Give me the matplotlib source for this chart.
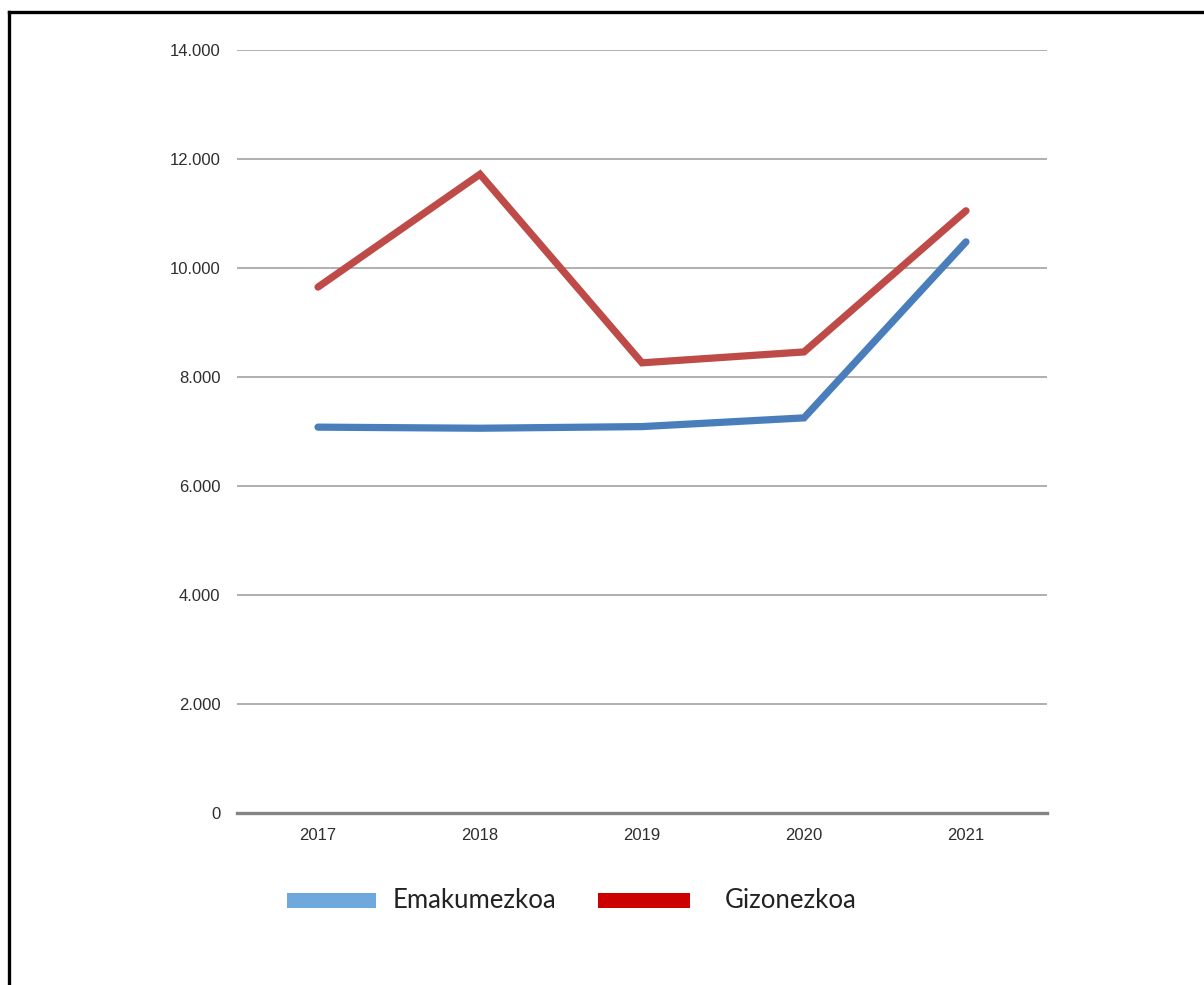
import matplotlib
matplotlib.use("Agg")
import matplotlib.pyplot as plt
from matplotlib.lines import Line2D
from matplotlib.patches import Rectangle
from matplotlib.ticker import FuncFormatter

years = ["2017", "2018", "2019", "2020", "2021"]
emakumezkoa = [7080, 7060, 7090, 7250, 10480]
gizonezkoa = [9650, 11720, 8260, 8460, 11050]
yticks = [0, 2000, 4000, 6000, 8000, 10000, 12000, 14000]
legend_labels = ["Emakumezkoa", "Gizonezkoa"]

W, H = 1204, 985
fig = plt.figure(figsize=(W / 100, H / 100), dpi=100)
ax = fig.add_axes([237 / W, 1 - 813 / H, (1047 - 237) / W, (813 - 50) / H])

x = list(range(len(years)))
ax.plot(x, emakumezkoa, color="#4a7ebb", lw=5.2, solid_capstyle="round", solid_joinstyle="miter", zorder=3)
ax.plot(x, gizonezkoa, color="#be4b48", lw=5.2, solid_capstyle="round", solid_joinstyle="miter", zorder=3)

ax.set_xlim(-0.5, len(years) - 0.5)
ax.set_ylim(0, 14000)
ax.set_xticks(x)
ax.set_xticklabels(years)
ax.set_yticks(yticks)
ax.yaxis.set_major_formatter(FuncFormatter(lambda v, p: f"{int(v):,}".replace(",", ".")))
for t in yticks[1:]:
    ax.axhline(t, color="#9a9a9a", lw=1.1, zorder=1)
ax.axhline(0, color="#858585", lw=2.4, zorder=2, clip_on=False)
for s in ax.spines.values():
    s.set_visible(False)
ax.tick_params(length=0, labelsize=12, labelcolor="#2e2e2e")
ax.tick_params(axis="y", pad=12)
ax.tick_params(axis="x", pad=11)
for lab in ax.get_xticklabels() + ax.get_yticklabels():
    lab.set_fontfamily("Liberation Sans")

# legend drawn in figure pixel coordinates
def fx(px):
    return px / W

def fy(py):
    return 1 - py / H

fig.add_artist(Rectangle((fx(287), fy(908)), fx(376) - fx(287), fy(893) - fy(908),
                         transform=fig.transFigure, color="#6fa8dc", lw=0))
fig.add_artist(Rectangle((fx(598), fy(908)), fx(690) - fx(598), fy(893) - fy(908),
                         transform=fig.transFigure, color="#cc0000", lw=0))
fig.text(fx(393), fy(900), legend_labels[0], fontsize=18.5, family="Lato", color="#222222", va="center", ha="left")
fig.text(fx(725), fy(900), legend_labels[1], fontsize=18.5, family="Lato", color="#222222", va="center", ha="left")

# page frame (top and left edges)
fig.add_artist(Line2D([fx(9), 1], [fy(12), fy(12)], transform=fig.transFigure, color="black", lw=2.4))
fig.add_artist(Line2D([fx(9), fx(9)], [fy(12), 0], transform=fig.transFigure, color="black", lw=2.4))

fig.savefig("out.png", dpi=100)
